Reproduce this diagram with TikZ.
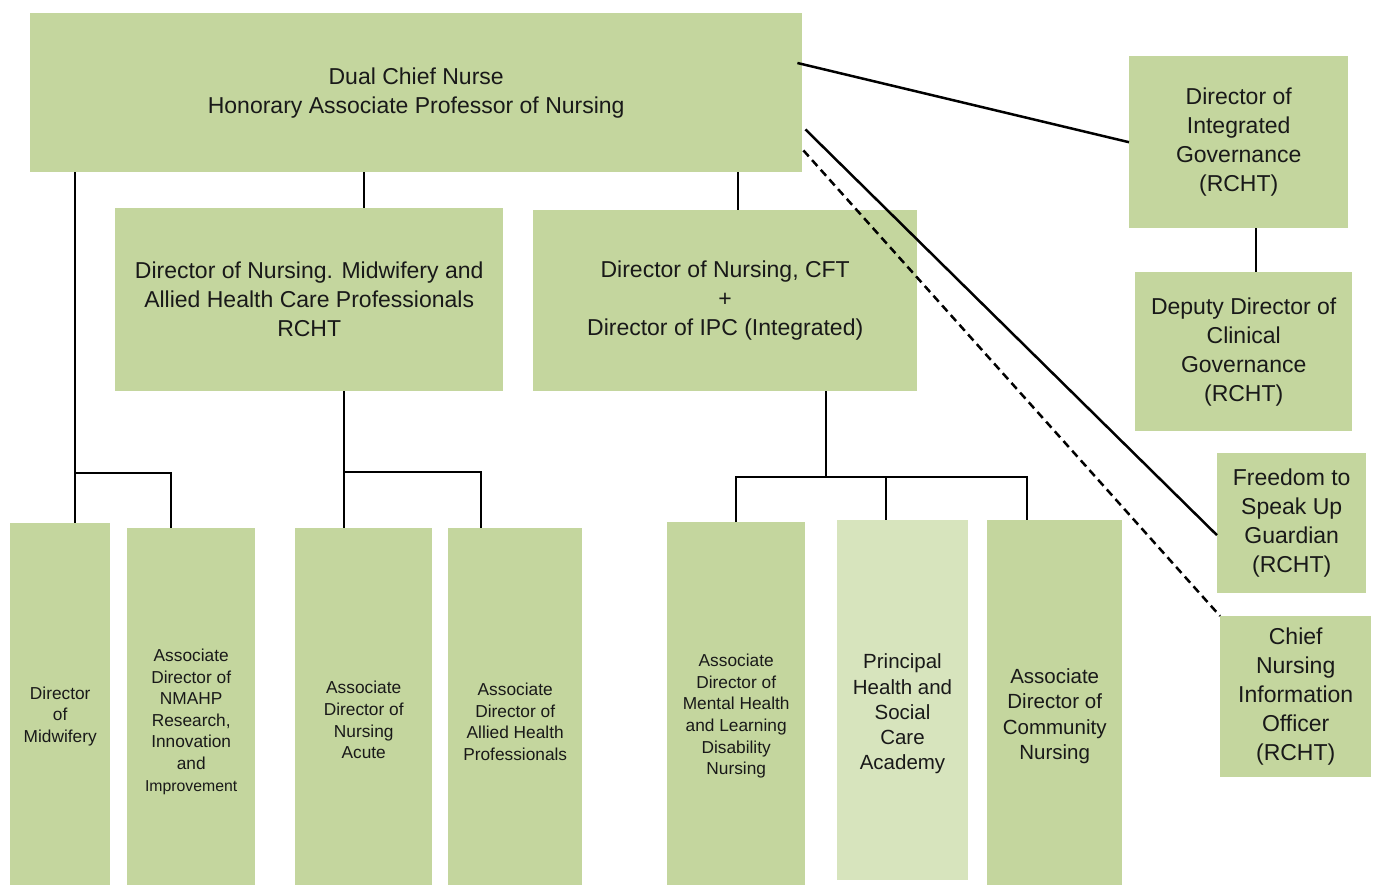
\documentclass[tikz,border=0pt]{standalone}
\usepackage{fontspec}
\setmainfont{Liberation Sans}
\usetikzlibrary{calc}
\definecolor{boxgreen}{HTML}{C4D69E}
\definecolor{lightgreen}{HTML}{D7E4BD}
\begin{document}
\begin{tikzpicture}[x=1pt,y=-1pt,
  box/.style={draw=none,fill=boxgreen,inner sep=0pt,anchor=north west,align=center,text=black!90},
  big/.style={font=\fontsize{23}{29}\selectfont},
  mid/.style={font=\fontsize{20.5}{25.3}\selectfont},
  small/.style={font=\fontsize{17.3}{21.6}\selectfont},
  txt/.style={inner sep=0pt,align=center,text=black!90},
  conn/.style={line width=2.5pt,black},
  dconn/.style={line width=2.5pt,black,dash pattern=on 8pt off 5pt}]
\useasboundingbox (0,0) rectangle (1377,885);
\fill[white] (0,0) rectangle (1377,885);
% top level
\node[box,big,minimum width=772,minimum height=159] (top) at (30,13) {Dual Chief Nurse\\Honorary Associate Professor of Nursing};
\node[box,big,minimum width=388,minimum height=183] (dnm) at (115,208) {Director of Nursing. Midwifery and\\Allied Health Care Professionals\\RCHT};
\node[box,big,minimum width=384,minimum height=181] (dcft) at (533,210) {Director of Nursing, CFT\\+\\Director of IPC (Integrated)};
% right column
\node[box,big,minimum width=219,minimum height=172] (dig) at (1129,56) {Director of\\Integrated\\Governance\\(RCHT)};
\node[box,big,minimum width=217,minimum height=159] (ddcg) at (1135,272) {Deputy Director of\\Clinical\\Governance\\(RCHT)};
\node[box,big,minimum width=149,minimum height=140] (ftsu) at (1217,453) {Freedom to\\Speak Up\\Guardian\\(RCHT)};
\node[box,big,minimum width=151,minimum height=161] (cnio) at (1220,616) {Chief\\Nursing\\Information\\Officer\\(RCHT)};
% bottom row
\node[box,small,minimum width=100,minimum height=386] (midw) at (10,523) {Director\\of\\Midwifery};
\node[box,small,minimum width=128,minimum height=387] (nmahp) at (127,528) {Associate\\Director of\\NMAHP\\Research,\\Innovation\\and\\{\fontsize{15.8}{21.6}\selectfont Improvement}};
\node[box,small,minimum width=137,minimum height=384] (acute) at (295,528) {Associate\\Director of\\Nursing\\Acute};
\node[box,small,minimum width=134,minimum height=387] (ahp) at (448,528) {Associate\\Director of\\Allied Health\\Professionals};
\node[box,small,minimum width=138,minimum height=388] (mhld) at (667,522) {Associate\\Director of\\Mental Health\\and Learning\\Disability\\Nursing};
\node[box,fill=lightgreen,minimum width=131,minimum height=360] (phsc) at (837,520) {};
\node[txt,mid] (phsct) at (902.5,714) {Principal\\Health and\\Social\\Care\\Academy};
\node[box,mid,minimum width=135,minimum height=392] (comm) at (987,520) {Associate\\Director of\\Community\\Nursing};
% connectors
\draw[conn] (top.south -| 75,0) -- (midw.north -| 75,0);
\draw[conn] (75,473) -- (171,473) -- (nmahp.north -| 171,0);
\draw[conn] (top.south -| 364,0) -- (dnm.north -| 364,0);
\draw[conn] (top.south -| 738,0) -- (dcft.north -| 738,0);
\draw[conn] (dnm.south -| 344,0) -- (acute.north -| 344,0);
\draw[conn] (344,472) -- (481,472) -- (ahp.north -| 481,0);
\draw[conn] (dcft.south -| 826,0) -- (826,477);
\draw[conn] (mhld.north -| 736,0) -- (736,477) -- (1027,477) -- (comm.north -| 1027,0);
\draw[conn] (886,477) -- (phsc.north -| 886,0);
\draw[conn] ($(top.north east)+(-5,50)$) -- (dig.west);
\draw[conn] ($(top.south east)+(3,-43)$) -- ($(ftsu.west)+(0,12)$);
\draw[dconn] ($(top.south east)+(1,-22)$) -- (cnio.north west);
\draw[conn] (dig.south -| 1256,0) -- (ddcg.north -| 1256,0);
\end{tikzpicture}
\end{document}
